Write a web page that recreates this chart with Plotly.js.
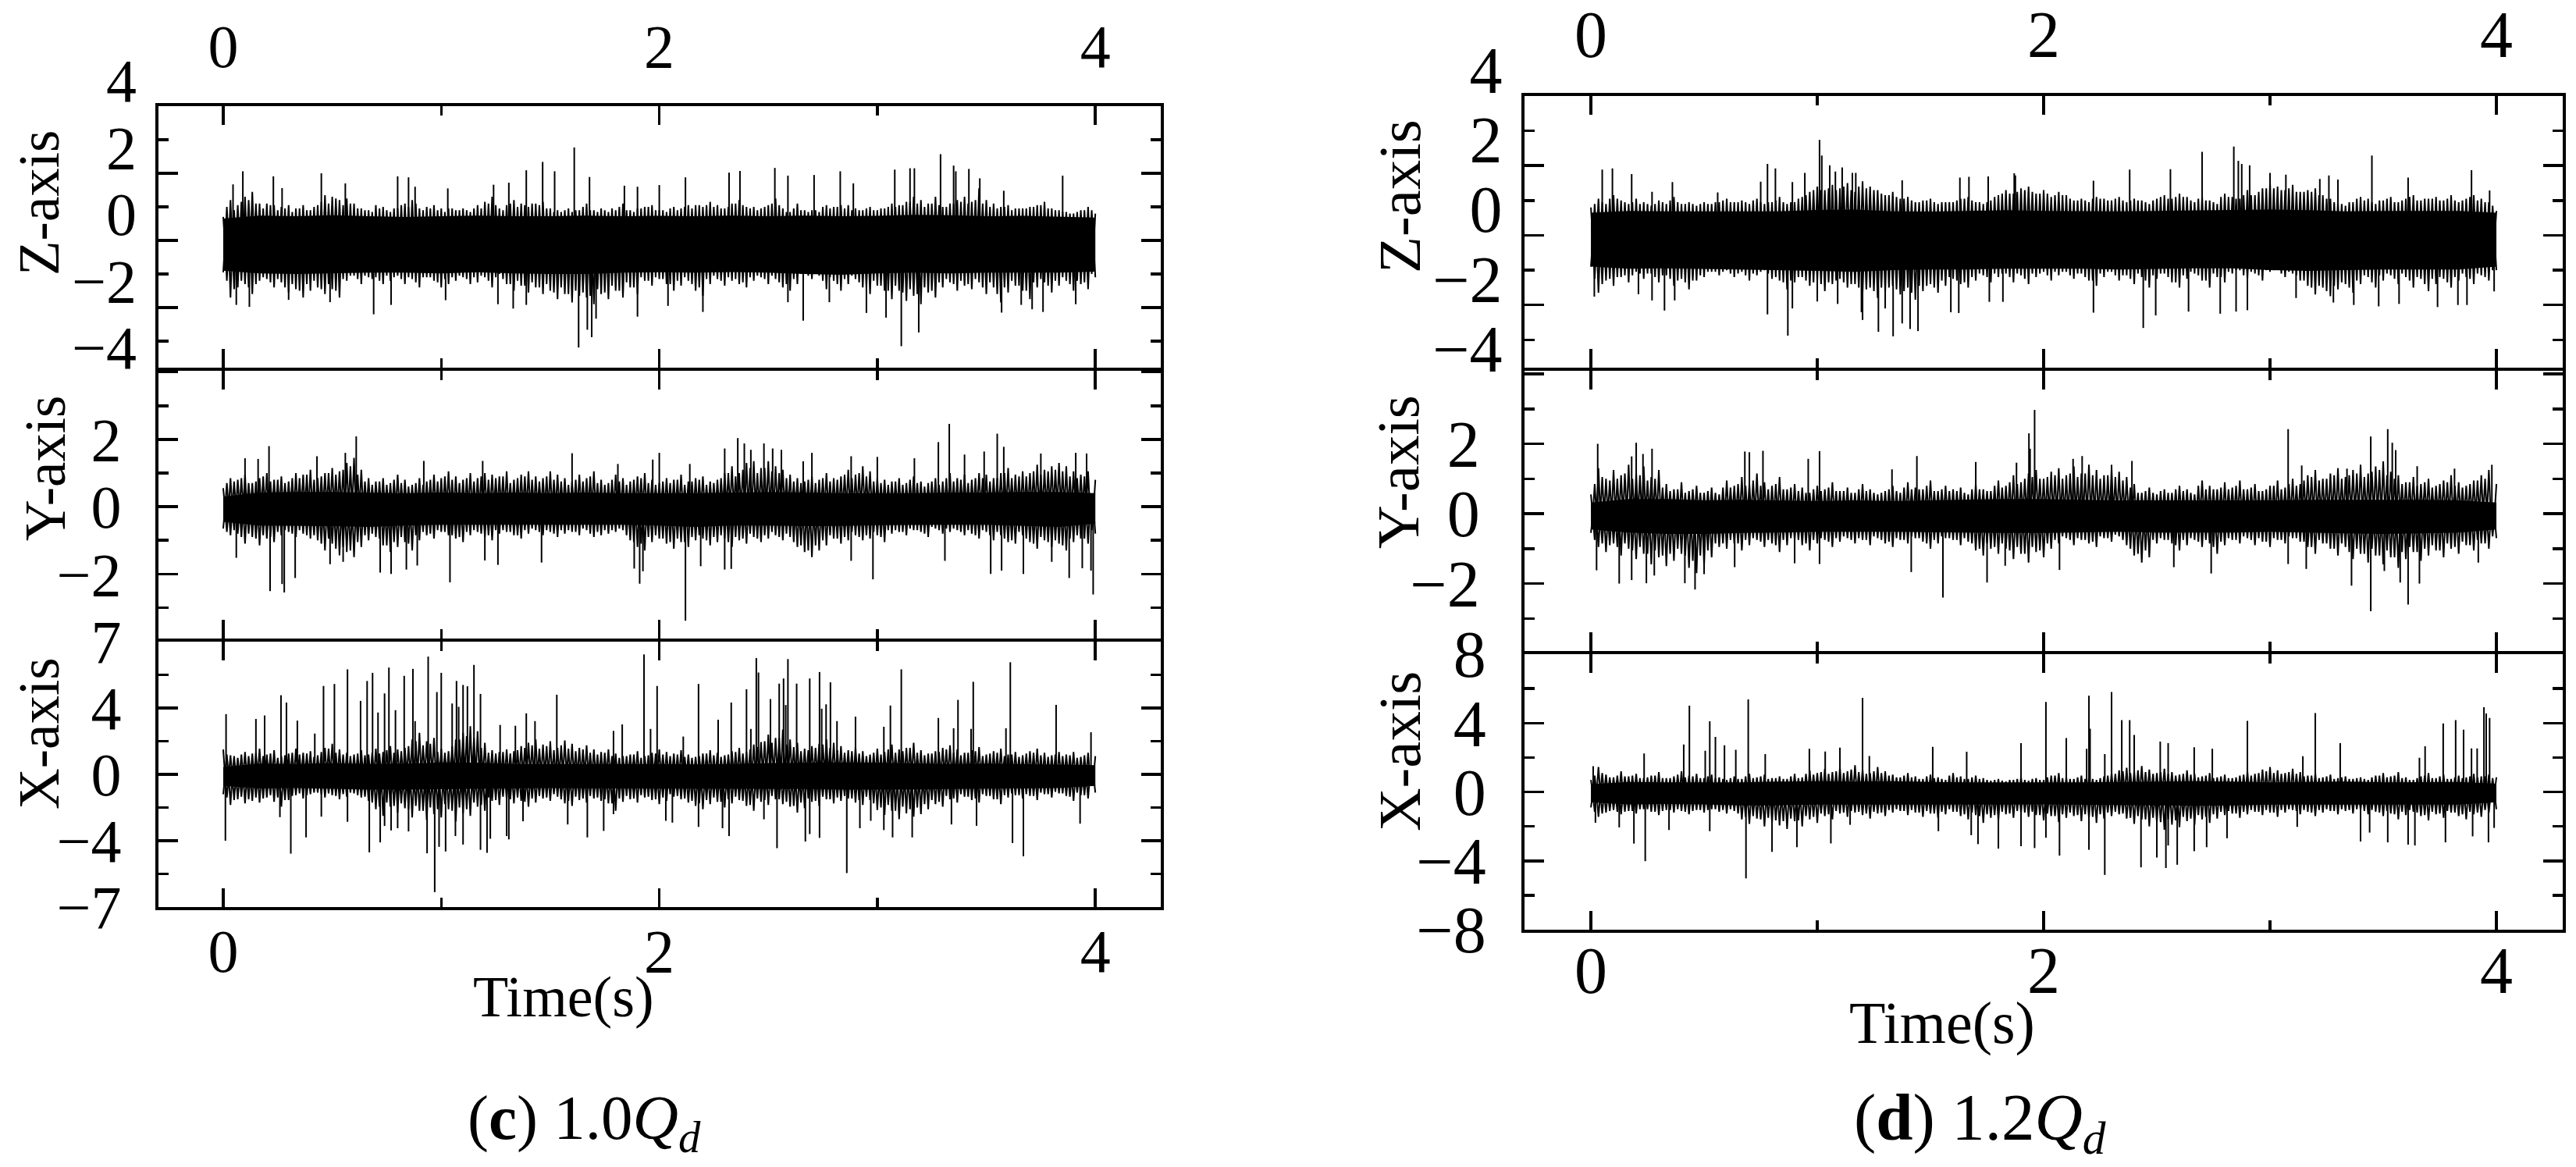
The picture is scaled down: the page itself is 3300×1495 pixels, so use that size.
<!DOCTYPE html>
<html><head><meta charset="utf-8">
<script src="https://cdn.plot.ly/plotly-3.0.1.min.js"></script>
<style>html,body{margin:0;padding:0;background:#fff}</style></head>
<body><div id="chart" style="width:3300px;height:1495px"></div>
<script>
const timeTicks=[0,2,4], timeMinor=[1,3];
const zMajor=[1,-1,-3], zMinor=[2,0,-2,-4];
const zLabels=[4,2,0,-2,-4];
const yMajor=[4,2,0,-2], yMinor=[3,1,-1,-3], yText=['\u00a0','2','0','\u22122'];
const xMajor=[8,4,0,-4,-8], xMinor=[6,2,-2,-6];
const xTextC=['7','4','0','\u22124','\u22127'], xTextD=['8','4','0','\u22124','\u22128'];

// (c) 1.0Qd  Z-axis
const cZCenter=-1.1;
const cZCoreHigh=[-.35,-.26,-.28,-.25,-.28,-.3,-.28,-.26,-.28,-.28,-.26,-.28,-.27,-.28,-.26,-.28,-.26,-.28,-.27,-.24,-.25,-.28,-.27,-.29,-.32];
const cZCoreLow=[-1.9,-1.98,-2,-1.98,-1.96,-1.96,-1.98,-1.95,-1.98,-2,-2,-1.96,-1.95,-1.96,-1.94,-1.96,-2,-2.02,-1.98,-1.96,-1.98,-1.96,-1.96,-1.96,-1.93];
const cZHigh=[-.3,.2,.05,.3,.45,.1,.1,.05,0,.05,-.05,.05,-.1,.05,.35,.3,.2,.25,.1,-.05,-.1,.05,0,-.15,-.05,.1,.2,-.05,0,.05,-.05,-.05,-.1,-.05,-.15,.05,.15,.3,-.05,.05,.2,.1,0,.1,.15,-.05,-.1,-.1,-.15,-.1,.1,-.1,-.05,-.15,-.1,.1,-.1,-.05,0,.05,-.1,-.15,0,-.05,.05,.05,0,.15,.05,-.05,.1,.2,0,0,-.05,.05,.25,-.05,-.15,.1,-.1,-.1,-.15,.05,0,.05,.05,-.05,-.1,0,-.1,-.05,.1,.05,.15,.3,.2,.1,.3,0,.1,.2,.3,.15,.55,.2,.1,0,.05,-.05,-.05,0,.05,.15,-.05,-.1,-.15,-.2,-.1,0,-.2];
const cZHigh2=[0,-.1,.15,.2,.1,-.05,.05,-.1,-.05,-.15,-.05,-.1,0,.15,.1,.25,.05,.1,-.05,-.1,-.15,-.05,-.1,-.05,.05,0,.1,-.1,-.05,-.1,-.15,-.05,-.1,-.1,-.05,-.05,.1,.05,-.1,.1,0,.05,.1,.05,-.05,-.15,-.15,-.05,-.1,0,-.1,-.15,-.1,-.05,0,-.1,-.15,-.05,0,-.1,-.1,-.05,-.1,0,-.05,.05,.05,0,-.05,0,.1,.05,-.05,-.1,0,.1,.05,-.15,-.05,-.1,-.15,-.1,0,-.05,0,-.05,-.1,-.1,-.05,-.1,-.05,0,0,.05,.15,.1,0,.1,.05,0,.1,.15,.1,.2,.1,0,-.05,0,-.1,-.05,-.05,0,.05,-.05,-.1,-.15,-.2,-.15,-.1,-.1];
const cZLow=[-1.95,-2.7,-2.4,-2.3,-2.6,-2.2,-2.15,-2.4,-2.25,-2.55,-2.45,-2.7,-2.5,-2.4,-2.6,-2.45,-2.7,-2.2,-2.05,-2.3,-2.1,-2.1,-2.3,-2.2,-2.05,-2.3,-2.15,-2.4,-2.1,-2.2,-2.4,-2.3,-2.2,-2.1,-2.3,-2.25,-2.1,-2.4,-2,-2.3,-2.5,-2.35,-2.55,-2.4,-2.6,-2.5,-2.75,-2.6,-2.85,-2.65,-2.7,-2.9,-2.6,-2.75,-2.5,-2.7,-2.4,-2.6,-2.2,-2.35,-2.15,-2.3,-2.5,-2.35,-2.2,-2.5,-2.65,-2.3,-2.15,-2.35,-2.2,-2.3,-2.4,-2.2,-2.1,-2.3,-2.15,-2.4,-2.5,-2.3,-2,-2.15,-2.05,-2.45,-2.2,-2.5,-2.3,-2.15,-2.4,-2.6,-2.35,-2.5,-2.75,-2.5,-2.8,-2.65,-2.9,-2.55,-2.7,-2.4,-2.25,-2.5,-2.35,-2.45,-2.25,-2.6,-2.4,-2.85,-2.55,-2.35,-2.5,-2.75,-2.4,-2.25,-2.55,-2.35,-2.2,-2.5,-2.3,-2.45,-2.1];
const cZLow2=[-2.2,-2.45,-2.2,-2.4,-2.3,-2.1,-2.25,-2.15,-2.4,-2.3,-2.5,-2.3,-2.2,-2.45,-2.3,-2.5,-2.15,-2.05,-2.15,-2.05,-2.15,-2.2,-2.05,-2.1,-2.15,-2.1,-2.25,-2.1,-2.1,-2.25,-2.15,-2.1,-2.05,-2.15,-2.1,-2.05,-2.2,-2.1,-2.15,-2.3,-2.2,-2.35,-2.25,-2.4,-2.3,-2.55,-2.4,-2.6,-2.5,-2.55,-2.65,-2.45,-2.55,-2.35,-2.5,-2.25,-2.4,-2.1,-2.2,-2.1,-2.15,-2.3,-2.2,-2.1,-2.3,-2.4,-2.15,-2.05,-2.2,-2.1,-2.15,-2.25,-2.1,-2.05,-2.15,-2.05,-2.25,-2.3,-2.15,-2,-2.05,-2,-2.2,-2.1,-2.3,-2.15,-2.05,-2.25,-2.4,-2.2,-2.35,-2.5,-2.35,-2.55,-2.45,-2.6,-2.4,-2.5,-2.25,-2.15,-2.3,-2.2,-2.3,-2.15,-2.4,-2.25,-2.6,-2.4,-2.2,-2.35,-2.5,-2.25,-2.15,-2.35,-2.2,-2.1,-2.3,-2.2,-2.25,-2];
const cZPeakT=[.09,.045,.23,.27,.45,.56,.8,.85,.88,1.03,1.24,1.31,1.39,1.465,1.52,1.61,1.68,1.84,1.9,2,2.12,2.32,2.37,2.53,2.59,2.71,2.83,2.89,3.08,3.15,3.17,3.29,3.35,3.36,3.42,3.47,3.85,3.58,.12,.06,.69,1.33,1.39,1.63,1.67,1.69,1.71,1.9,2.04,2.2,2.66,2.78,2.95,3.04,3.11,3.19,3.57,3.76,3.91,3.71,3.66,1.26,1.02,.77,.49,.3,2.59];
const cZPeakV=[1.06,.67,.91,.56,1,.7,.91,.88,.6,.55,.66,.72,1.09,1.34,1.06,1.77,.89,.63,.6,.65,.88,1.02,1.07,1.16,.93,.95,1.06,.7,1.11,1.15,1.15,1.57,1.23,1.06,1.13,.85,.93,.48,-2.98,-2.92,-3.2,-3.03,-2.92,-4.19,-3.66,-3.88,-3.33,-3.27,-2.95,-3.13,-3.39,-2.84,-3.16,-3.3,-4.15,-3.74,-3.15,-3.13,-2.9,-3.05,-2.92,-2.9,-2.78,-2.92,-2.84,-2.77,-2.84];

// (c) 1.0Qd  Y-axis
const cYCenter=-.05;
const cYCoreHigh=[.3,.42,.44,.44,.42,.4,.42,.4,.42,.4,.42,.4,.4,.4,.42,.44,.42,.4,.4,.4,.42,.42,.44,.44,.4];
const cYCoreLow=[-.45,-.56,-.57,-.58,-.6,-.56,-.54,-.55,-.55,-.54,-.54,-.54,-.56,-.6,-.56,-.56,-.58,-.57,-.55,-.54,-.54,-.54,-.57,-.6,-.5];
const cYHigh=[.55,.85,.8,.95,.7,.85,1,.8,.9,.75,1,.95,1.1,.85,1,1.15,1.05,1.3,1.45,1.1,.85,.75,.85,.7,.95,.8,.65,.85,.75,.95,.85,1.05,.9,.8,1,.85,1,.95,.9,1.05,.8,.95,1.05,.9,.85,1.05,.95,.85,.75,.95,.85,1.05,.8,.7,.95,.85,.75,.9,1,.8,.7,.85,.8,.95,.75,.85,.9,.75,.8,1,1.2,1,1.3,1.35,1.15,1.35,1.2,1.1,.95,.85,.75,.9,.8,1,.85,.9,1.1,.95,1.2,1.05,.85,.8,.75,.85,.7,.9,.75,.7,.85,.75,1,.85,.95,.8,1,.95,.85,1,1.15,.95,1.05,1,1.25,1.1,1.2,1.3,1.2,1.05,.95,1.05,.8];
const cYHigh2=[.7,.75,.85,.7,.75,.9,.75,.8,.7,.85,.85,.95,.8,.9,1,.95,1.1,1.2,.95,.75,.65,.75,.65,.8,.7,.6,.7,.65,.8,.75,.9,.8,.7,.85,.75,.9,.8,.85,.9,.7,.85,.9,.8,.75,.9,.8,.75,.65,.8,.75,.9,.7,.65,.8,.75,.65,.8,.85,.7,.65,.75,.7,.8,.65,.75,.8,.65,.7,.85,1,.9,1.1,1.15,1,1.15,1.05,1,.85,.75,.7,.8,.7,.85,.75,.8,.95,.85,1,.9,.75,.7,.65,.75,.65,.8,.7,.6,.75,.65,.85,.75,.8,.7,.85,.85,.75,.85,1,.85,.9,.9,1.05,.95,1.05,1.1,1.05,.9,.85,.9];
const cYLow=[-.65,-.85,-.8,-1.1,-.9,-1.15,-.95,-1.05,-.85,-.75,-.9,-.8,-.95,-1,-1.3,-1.1,-1.45,-1.35,-1.5,-1.2,-1,-.9,-1.15,-1.35,-1.2,-1.05,-1.3,-1,-.85,-.95,-.75,-.85,-.95,-1.05,-.85,-.75,-.9,-1,-.8,-.75,-.85,-.95,-.8,-.7,-.85,-.75,-.9,-.8,-.75,-.85,-.7,-.9,-.85,-.8,-.75,-.7,-1,-1.2,-1.3,-1.05,-.95,-1.1,-1.25,-1.05,-1.2,-1,-.95,-1.15,-1.05,-.95,-1.2,-1,-1.1,-.9,-1.05,-.95,-.85,-1,-.9,-1.2,-1.35,-1.5,-1.3,-1.15,-.95,-1.1,-1,-.85,-1,-.95,-.85,-1.05,-.8,-.75,-.85,-.7,-.75,-.9,-.65,-.8,-.75,-.7,-.85,-.8,-.95,-.75,-1,-.85,-1.05,-1.1,-.85,-1.05,-1.25,-1,-1.2,-1.1,-1.3,-1.05,-.95,-1.1,-.8];
const cYLow2=[-.75,-.7,-.9,-.8,-.95,-.85,-.9,-.75,-.7,-.8,-.7,-.85,-.85,-1.1,-.95,-1.25,-1.2,-1.3,-1.05,-.85,-.8,-.95,-1.15,-1.05,-.9,-1.1,-.85,-.75,-.8,-.7,-.75,-.85,-.9,-.75,-.7,-.8,-.85,-.7,-.7,-.75,-.85,-.7,-.65,-.75,-.7,-.8,-.7,-.7,-.75,-.65,-.8,-.75,-.7,-.7,-.65,-.85,-1.05,-1.1,-.9,-.85,-.95,-1.05,-.95,-1.05,-.9,-.85,-1,-.9,-.85,-1.05,-.9,-.95,-.8,-.95,-.85,-.75,-.9,-.8,-1.05,-1.15,-1.3,-1.15,-1,-.85,-.95,-.9,-.75,-.9,-.85,-.75,-.9,-.7,-.7,-.75,-.65,-.7,-.8,-.6,-.7,-.65,-.65,-.75,-.7,-.85,-.7,-.85,-.75,-.95,-1,-.75,-.95,-1.1,-.9,-1.05,-1,-1.15,-.95,-.85,-.95,-.7];
const cYPeakT=[.1,.16,.21,.43,.56,.61,1.6,1.81,2,1.97,2.14,2.3,2.36,2.39,2.42,2.48,2.52,2.56,2.7,2.88,3,3.28,3.33,3.4,3.49,3.55,3.58,3.75,3.91,3.96,1.19,.92,2.66,3.17,.215,.28,.27,.33,.06,.72,.77,.84,.89,1.04,1.2,1.26,1.46,1.91,1.885,1.925,2.12,2.19,2.3,2.33,2.88,2.98,3.31,3.52,3.57,3.67,3.8,3.88,3.94,3.98,3.99,.49,.55];
const cYPeakV=[1.44,1.42,1.8,1.5,1.6,2.09,1.59,1.27,1.6,1.4,1.27,1.73,2.04,1.88,1.69,1.88,1.73,1.69,1.6,1.5,1.48,1.92,2.46,1.55,1.64,2.17,1.78,1.58,1.6,1.58,1.36,1.36,1.35,1.44,-2.51,-2.55,-2.3,-2.12,-1.52,-1.96,-2,-1.87,-1.75,-2.25,-1.6,-1.73,-1.66,-2.29,-1.84,-1.92,-3.39,-1.77,-1.87,-1.85,-1.61,-2.16,-1.61,-2,-1.9,-2,-1.64,-2.12,-1.83,-1.9,-2.61,-1.71,-1.64];

// (c) 1.0Qd  X-axis
const cXCenter=-.1;
const cXCoreHigh=[.45,.65,.62,.68,.62,.65,.72,.7,.62,.62,.65,.62,.62,.6,.62,.68,.7,.72,.7,.65,.62,.65,.62,.6,.55];
const cXCoreLow=[-.7,-.85,-.82,-.88,-.92,-.92,-.9,-.88,-.85,-.82,-.85,-.88,-.85,-.85,-.88,-.88,-.88,-.92,-.92,-.92,-.88,-.85,-.85,-.82,-.7];
const cXHigh=[1.5,1.15,1,1.35,1.25,1.55,1.2,1.45,1.1,1.25,1.55,1.3,1.4,1.15,1.6,1.85,1.5,1.3,1.2,1.45,1.2,1.55,1.35,1.7,1.5,1.6,2.1,2.5,2,2.2,1.55,1.4,2.1,2.5,2.9,2.6,1.9,1.45,1.35,1.5,1.4,1.7,1.9,2.1,1.8,2,1.6,2.05,1.85,1.6,1.75,1.5,1.35,1.5,1.25,1.1,1.2,1.4,1.1,1.3,1.5,1.35,1.25,1.45,1.2,1.05,1.25,1.45,1.3,1.15,1.4,1.6,1.35,1.8,1.95,2.4,2.2,2.7,2.1,1.9,1.55,1.7,1.85,2.1,1.9,1.7,1.45,1.65,1.4,1.2,1.55,1.35,1.8,1.5,1.6,1.9,1.45,1.25,1.4,1.6,1.75,1.5,1.3,1.45,1.65,1.2,1.4,1.55,1.2,1.35,1.15,1.4,1.55,1.3,1.15,1.35,1.2,1.35,1.05,1.3,1.1];
const cXHigh2=[1.2,1.1,1.2,1.1,1.3,1.1,1.25,1,1.15,1.3,1.2,1.25,1.05,1.35,1.55,1.3,1.2,1.1,1.25,1.15,1.3,1.25,1.45,1.3,1.4,1.7,2,1.75,1.85,1.35,1.3,1.7,2.1,2.3,2.2,1.6,1.3,1.25,1.35,1.25,1.45,1.6,1.75,1.55,1.7,1.45,1.75,1.55,1.4,1.5,1.3,1.2,1.3,1.1,1,1.1,1.2,1,1.15,1.25,1.2,1.1,1.2,1.05,1,1.1,1.25,1.15,1.05,1.2,1.35,1.25,1.5,1.65,2,1.9,2.2,1.8,1.65,1.4,1.45,1.6,1.8,1.6,1.45,1.3,1.4,1.25,1.1,1.3,1.2,1.5,1.3,1.4,1.6,1.3,1.15,1.25,1.35,1.5,1.3,1.15,1.3,1.4,1.1,1.25,1.3,1.1,1.2,1.05,1.25,1.3,1.15,1.05,1.2,1.1,1.15,1,1.15];
const cXLow=[-1.2,-1.85,-1.5,-1.75,-1.6,-1.7,-1.4,-1.65,-1.95,-1.55,-1.25,-1.45,-1.2,-1.1,-1.4,-1.25,-1.5,-1.35,-1.15,-1.4,-1.6,-2.1,-2.5,-1.95,-2.3,-2.05,-2.6,-2.2,-2.75,-2.4,-2.6,-2.1,-2.85,-2.35,-2.5,-1.95,-2.2,-1.6,-1.85,-1.5,-1.75,-1.6,-1.95,-1.7,-1.45,-1.6,-1.35,-1.75,-1.9,-1.55,-1.7,-1.45,-1.6,-1.75,-2.2,-1.65,-1.5,-1.7,-1.4,-1.55,-1.8,-1.6,-1.35,-1.5,-1.7,-1.9,-2.1,-1.8,-1.65,-2,-1.75,-1.55,-1.9,-2.2,-1.65,-1.85,-1.5,-1.8,-1.95,-2.3,-2.05,-1.65,-1.9,-1.5,-1.75,-1.6,-1.45,-1.7,-1.85,-1.55,-2.15,-2.45,-2.2,-2.7,-2.35,-2.55,-2.4,-2.1,-1.8,-1.95,-1.5,-1.7,-1.35,-1.55,-1.7,-1.3,-1.5,-1.8,-1.4,-1.25,-1.45,-1.3,-1.55,-1.2,-1.4,-1.15,-1.3,-1.6,-1.25,-1.45,-1.1];
const cXLow2=[-1.4,-1.55,-1.35,-1.5,-1.4,-1.45,-1.25,-1.4,-1.55,-1.3,-1.15,-1.25,-1.1,-1.2,-1.15,-1.3,-1.2,-1.1,-1.25,-1.35,-1.7,-1.95,-1.7,-1.9,-1.75,-2.1,-1.9,-2.2,-2,-2.1,-1.8,-2.2,-2,-2.1,-1.7,-1.85,-1.4,-1.55,-1.35,-1.5,-1.4,-1.65,-1.45,-1.3,-1.4,-1.2,-1.5,-1.6,-1.35,-1.45,-1.3,-1.4,-1.5,-1.75,-1.45,-1.3,-1.45,-1.25,-1.35,-1.5,-1.4,-1.2,-1.3,-1.45,-1.6,-1.75,-1.55,-1.4,-1.65,-1.5,-1.35,-1.6,-1.85,-1.45,-1.55,-1.3,-1.5,-1.65,-1.9,-1.7,-1.45,-1.6,-1.35,-1.5,-1.4,-1.3,-1.45,-1.55,-1.35,-1.75,-2,-1.85,-2.2,-1.95,-2.1,-2,-1.8,-1.55,-1.65,-1.3,-1.45,-1.2,-1.35,-1.45,-1.2,-1.3,-1.5,-1.25,-1.15,-1.25,-1.2,-1.3,-1.1,-1.2,-1.05,-1.15,-1.35,-1.1,-1.25];
const cXPeakT=[.013,.15,.19,.265,.29,.34,.42,.46,.51,.57,.63,.66,.685,.71,.74,.76,.79,.83,.87,.88,.94,.98,1,1.05,1.07,1.08,1.1,1.12,1.15,1.18,1.27,1.34,1.39,1.43,1.53,1.83,1.79,1.93,1.96,1.99,2.11,2.18,2.27,2.33,2.4,2.42,2.445,2.455,2.51,2.55,2.57,2.58,2.59,2.63,2.69,2.735,2.745,2.785,2.765,2.815,2.9,3.03,3.06,3.11,3.28,3.37,3.35,3.43,3.44,3.59,3.61,3.82,3.98,.01,.26,.31,.38,.45,.57,.67,.72,.74,.77,.8,.85,.935,.97,.99,1.02,1.065,1.1,1.18,1.21,1.225,1.3,1.31,1.375,1.58,1.67,1.745,1.79,2.03,2.06,2.18,2.29,2.32,2.48,2.54,2.67,2.69,2.735,2.86,2.92,3.03,3.07,3.16,3.34,3.455,3.62,3.67,3.93,2.97];
const cXPeakV=[3.63,3.34,3.55,4.77,4.33,3.24,2.46,5.33,5.45,6.33,4.43,5.63,6.12,3.73,4.88,6.44,3.87,5.94,6.36,3.21,7.1,4.96,6.12,4.27,5.63,4.07,5.39,5.31,6.6,4.85,2.98,2.93,3.68,3.21,4.8,3.01,2.62,7.23,2.74,5.33,2.28,5.45,3.29,4.33,5.13,2.74,7.01,6.14,4.54,5.47,5.78,4.18,6.95,5.47,5.78,6.17,3.96,5.55,4.22,3.21,3.48,2.87,4.15,6.33,3.4,4.49,2.78,2.74,5.58,2.78,6.76,4.19,2.54,-4,-2.58,-4.78,-3.8,-2.55,-2.86,-4.7,-4.1,-3.11,-3.38,-3.25,-3.44,-4.76,-7.1,-4.37,-4.65,-3.72,-4.23,-4.55,-4.73,-3.88,-3.72,-3.92,-2.83,-3.02,-3.8,-3.41,-2.4,-2.8,-2.91,-3.17,-3.25,-3.72,-2.71,-4.45,-4.05,-3.6,-3.83,-5.95,-3.25,-3.36,-3.8,-3.8,-3.02,-3.1,-4.14,-4.94,-2.97,-2.8];

// (d) 1.2Qd  Z-axis
const dZCenter=-1.1;
const dZCoreHigh=[-.35,-.3,-.31,-.31,-.3,-.31,-.27,-.26,-.31,-.32,-.3,-.28,-.3,-.31,-.31,-.3,-.29,-.27,-.26,-.28,-.31,-.3,-.3,-.3,-.35];
const dZCoreLow=[-1.9,-1.96,-1.95,-1.96,-1.98,-2,-2.02,-2.05,-2,-1.98,-1.98,-1.96,-1.96,-1.96,-1.98,-1.96,-1.95,-1.95,-2,-2.02,-2,-1.98,-1.98,-1.98,-1.9];
const dZHigh=[-.2,.05,-.1,.15,0,-.1,.05,-.05,-.15,0,-.1,.1,-.1,-.05,-.15,-.05,-.1,-.05,.05,-.05,0,-.1,.05,-.1,-.05,.1,-.1,-.05,.1,.25,.4,.3,.45,.35,.5,.25,.55,.4,.3,.15,.25,.05,.1,-.05,0,.05,-.1,-.05,-.05,.05,.1,-.05,-.1,0,.15,.3,.2,.35,.4,.2,.3,.1,.25,.15,0,.05,-.05,.1,.05,0,.1,-.05,.05,0,-.1,.05,.15,.05,.2,.1,-.05,.1,0,-.1,.2,.1,.05,.3,.15,.35,.5,.4,.3,.45,.25,.3,.35,.15,.05,-.05,-.15,-.05,.1,.05,-.1,0,.1,-.05,.05,.15,0,.05,.1,0,.15,-.05,.05,.15,.05,-.05,-.3];
const dZHigh2=[-.1,-.05,.05,.05,-.05,-.05,-.1,-.1,-.1,-.05,0,-.05,-.1,-.1,-.1,-.1,-.05,0,-.05,-.05,-.05,0,-.05,-.05,0,-.05,-.05,.05,.15,.3,.3,.35,.3,.4,.3,.4,.35,.3,.2,.15,.1,.05,0,-.05,0,-.05,-.05,-.05,0,.05,0,-.05,-.05,.1,.2,.2,.25,.3,.25,.2,.2,.15,.15,.05,0,0,.05,.05,0,.05,0,0,0,-.05,0,.1,.05,.1,.1,0,.05,0,-.05,.1,.1,.05,.15,.15,.25,.35,.35,.3,.35,.25,.25,.25,.15,.05,-.05,-.1,-.05,.05,0,-.05,0,.05,-.05,0,.1,0,.05,.05,0,.05,0,0,.1,0,-.05,-.15];
const dZLow=[-1.9,-2.65,-2.3,-2.45,-2.2,-2.35,-2.05,-2.25,-2.1,-2.35,-2.15,-2.45,-2.25,-2.55,-2.3,-2.2,-2.05,-2.15,-2,-2.2,-2.05,-2.3,-2.15,-2,-2.25,-2.3,-2.55,-2.35,-2.2,-2.45,-2.3,-2.6,-2.4,-2.25,-2.5,-2.4,-2.65,-2.5,-2.8,-2.6,-2.45,-2.7,-2.5,-2.85,-2.6,-2.4,-2.65,-2.45,-2.25,-2.4,-2.5,-2.3,-2.15,-2.35,-2.2,-2.1,-2.35,-2.15,-2.4,-2.2,-2.05,-2.3,-2.15,-2.05,-2.25,-2.1,-2.3,-2.45,-2.2,-2.05,-2.3,-2.15,-2.4,-2.2,-2.5,-2.25,-2.1,-2.35,-2.5,-2.25,-2.1,-2.3,-2.5,-2.2,-2.35,-2.1,-2,-2.25,-2.1,-2.3,-2.05,-1.95,-2.2,-2.1,-2.3,-2.45,-2.7,-2.5,-2.75,-2.55,-2.4,-2.65,-2.4,-2.2,-2.5,-2.3,-2.15,-2.4,-2.2,-2.5,-2.25,-2.6,-2.4,-2.25,-2.5,-2.3,-2.2,-2.4,-2.15,-2.3,-2];
const dZLow2=[-2.25,-2.4,-2.25,-2.2,-2.15,-2.15,-2.1,-2.1,-2.2,-2.15,-2.25,-2.3,-2.35,-2.3,-2.15,-2.05,-2.05,-2.05,-2.1,-2.1,-2.15,-2.1,-2.05,-2.1,-2.2,-2.35,-2.3,-2.2,-2.3,-2.35,-2.4,-2.35,-2.3,-2.35,-2.4,-2.5,-2.55,-2.6,-2.5,-2.5,-2.55,-2.6,-2.65,-2.45,-2.45,-2.5,-2.3,-2.2,-2.3,-2.35,-2.2,-2.1,-2.2,-2.1,-2.1,-2.2,-2.1,-2.25,-2.1,-2.1,-2.15,-2.05,-2.05,-2.15,-2.1,-2.2,-2.3,-2.1,-2.05,-2.15,-2.15,-2.25,-2.1,-2.3,-2.15,-2.1,-2.2,-2.35,-2.15,-2.05,-2.15,-2.3,-2.1,-2.2,-2.05,-2,-2.15,-2.05,-2.15,-2,-2,-2.1,-2.05,-2.15,-2.3,-2.5,-2.45,-2.6,-2.45,-2.35,-2.5,-2.3,-2.15,-2.35,-2.15,-2.1,-2.25,-2.1,-2.3,-2.2,-2.4,-2.25,-2.2,-2.35,-2.2,-2.1,-2.25,-2.1,-2.2,-2];
const dZPeakT=[.05,.095,.18,.27,.36,.56,.78,.815,.75,.89,.945,1.01,1.02,1.055,1.08,1.11,1.155,1.17,1.375,1.63,1.67,1.755,1.87,1.875,2.22,2.38,2.56,2.7,2.84,2.86,2.875,2.91,3,3.07,3.22,3.26,3.3,3.45,3.61,3.89,3.97,.015,.21,.27,.325,.37,.78,.87,.89,1,1.09,1.195,1.2,1.27,1.335,1.3,1.375,1.41,1.445,1.59,1.625,1.76,1.82,2.22,2.44,2.495,2.64,2.78,2.85,2.9,3.115,3.28,3.37,3.48,3.57,3.74,3.83,3.87,3.99];
const dZPeakV=[.89,.92,.76,.25,.53,.23,1.05,.92,.54,.53,.79,1.74,1.29,1.01,.83,.95,.79,.79,.58,.66,.68,.69,.78,.72,.57,.89,.9,1.4,1.55,1.14,1.05,1.01,.79,.74,.62,.72,.6,1.29,.66,.87,.29,-2.76,-2.69,-2.87,-3.16,-2.87,-3.27,-3.88,-3.1,-2.9,-2.97,-3.21,-3.43,-3.77,-3.9,-3.1,-3.53,-3.69,-3.75,-3.21,-3.23,-2.91,-2.91,-3.22,-3.66,-3.3,-3.19,-3.25,-3.19,-3.15,-2.8,-2.93,-3,-3.04,-2.97,-3.06,-3,-3,-2.61];

// (d) 1.2Qd  Y-axis
const dYCenter=-.05;
const dYCoreHigh=[.32,.42,.42,.38,.4,.38,.36,.38,.36,.38,.4,.42,.42,.4,.38,.38,.38,.38,.38,.4,.4,.4,.4,.38,.32];
const dYCoreLow=[-.45,-.54,-.58,-.58,-.55,-.54,-.52,-.52,-.52,-.52,-.54,-.55,-.55,-.54,-.52,-.54,-.54,-.54,-.52,-.54,-.56,-.58,-.56,-.54,-.45];
const dYHigh=[.55,1.3,1,1.25,1.1,1.4,1.15,1.35,1.05,1.25,.85,.7,.9,.65,.8,.6,.75,.55,.95,.8,1.05,.85,1.15,.9,.8,1.05,.7,.85,.75,.6,.8,.7,.9,.65,.75,.6,.85,.7,.55,.65,.8,.6,.9,.75,.7,.95,.65,.8,.7,.75,.55,.85,.7,.65,.95,.8,1.1,.9,1.15,1.25,1,1.2,1.3,1.1,1.35,1.15,1.4,1.25,1.1,1.3,1.2,1.05,.85,.6,.75,.55,.7,.6,.8,.7,.55,.95,.8,.7,.9,.75,.95,.7,.85,.65,.8,.95,.75,1,.85,1.1,1.25,1,1.15,1.3,1.05,1.25,1.4,1.15,1.35,1.5,1.2,1.1,.9,1.05,.85,1,.8,.95,1.1,.9,.8,.95,1.1,1.25,.85];
const dYHigh2=[.85,1.05,.95,1,1.15,1,1.1,.95,1,.75,.65,.7,.6,.7,.6,.65,.6,.75,.75,.85,.8,.95,.8,.7,.85,.7,.75,.65,.6,.7,.65,.75,.65,.65,.6,.7,.65,.6,.6,.7,.65,.75,.7,.7,.8,.65,.7,.65,.65,.6,.7,.7,.65,.8,.75,.9,.85,1,1.05,1,1.05,1.1,1,1.15,1.05,1.15,1.1,1,1.1,1.05,.95,.75,.6,.65,.6,.65,.6,.7,.65,.6,.8,.7,.7,.75,.7,.8,.7,.75,.65,.7,.8,.7,.85,.8,.95,1.05,.95,1,1.1,1,1.1,1.15,1.05,1.2,1.25,1.1,1,.85,.9,.8,.9,.75,.85,.9,.8,.75,.85,.95,1];
const dYLow=[-.55,-.95,-1.1,-.85,-1.2,-1,-1.3,-1.15,-1.45,-1.25,-1.5,-1.35,-1.15,-1.55,-1.7,-1.45,-1.25,-.95,-1,-.85,-1.05,-.9,-.75,-.95,-.85,-1.1,-.9,-.75,-.9,-1.05,-.85,-.75,-.95,-.8,-.7,-.85,-.75,-.9,-.7,-.85,-.95,-.75,-.85,-.7,-.8,-1,-.85,-.7,-.75,-.9,-.8,-1.05,-1.2,-1,-1.15,-1,-1.3,-1.15,-1.4,-1.1,-1.25,-1,-.85,-.7,-.9,-.75,-.85,-.95,-.7,-.8,-.65,-.9,-1.2,-1.4,-1.25,-.85,-.75,-.85,-1.05,-.9,-.75,-.95,-.85,-1.15,-.9,-.75,-.85,-.7,-.9,-.8,-.95,-.75,-.85,-.7,-.8,-.95,-1.15,-.85,-1,-1.2,-.95,-1.3,-1.15,-1.4,-1.2,-1.45,-1.25,-1.55,-1.3,-1.1,-1.35,-1.2,-1.05,-1.25,-1,-1.15,-.9,-1.05,-.85,-1,-.7];
const dYLow2=[-.75,-.85,-.9,-.95,-.85,-1.05,-.95,-1.15,-1.05,-1.2,-1.15,-1,-1.2,-1.35,-1.2,-1.05,-.85,-.85,-.75,-.85,-.75,-.7,-.8,-.75,-.9,-.75,-.7,-.75,-.85,-.75,-.7,-.8,-.7,-.65,-.75,-.7,-.75,-.65,-.75,-.8,-.7,-.75,-.65,-.7,-.85,-.75,-.65,-.7,-.75,-.7,-.85,-1,-.85,-.95,-.85,-1.05,-.95,-1.15,-.95,-1.05,-.85,-.75,-.65,-.75,-.7,-.75,-.8,-.65,-.7,-.6,-.75,-1,-1.15,-1.05,-.75,-.7,-.75,-.9,-.75,-.7,-.8,-.75,-.95,-.8,-.7,-.75,-.65,-.75,-.7,-.8,-.7,-.75,-.65,-.7,-.8,-.95,-.75,-.85,-1,-.85,-1.1,-1,-1.15,-1,-1.2,-1.05,-1.25,-1.1,-.95,-1.1,-1,-.9,-1.05,-.85,-.95,-.8,-.9,-.75,-.85,-.65];
const dYPeakT=[.03,.2,.18,.23,.27,.68,.7,.76,.96,1.01,1.44,1.7,1.88,1.935,1.96,1.94,2.13,2.17,2.3,2.39,3.08,3.14,3.445,3.52,3.54,3.555,3.65,3.815,3.98,3.34,1.33,.025,.125,.18,.245,.28,.415,.46,.5,.635,.9,1.01,1.415,1.555,1.75,1.83,2.07,2.575,2.74,3.08,3.16,3.36,3.445,3.505,3.61,3.575,3.66,3.92];
const dYPeakV=[2,2.03,1.64,1.71,1.86,1.78,1.76,1.8,1.57,1.79,1.65,1.48,1.46,2.3,2.97,1.86,1.57,1.65,1.4,1.51,2.42,1.38,2.21,2.42,2.03,1.82,1.36,1.29,1.4,1.29,1.27,-1.62,-2,-1.9,-1.99,-1.77,-1.99,-2.17,-1.73,-1.53,-1.42,-1.44,-1.67,-2.4,-1.97,-1.49,-1.61,-1.53,-1.71,-1.44,-1.58,-2.06,-2.79,-1.64,-2.6,-1.97,-2,-1.4];

// (d) 1.2Qd  X-axis
const dXCenter=-.1;
const dXCoreHigh=[.45,.58,.55,.55,.55,.6,.62,.6,.62,.58,.55,.56,.55,.55,.58,.6,.62,.6,.56,.58,.6,.56,.56,.58,.48];
const dXCoreLow=[-.6,-.72,-.7,-.72,-.78,-.78,-.74,-.74,-.72,-.74,-.74,-.74,-.72,-.74,-.76,-.78,-.8,-.78,-.74,-.72,-.74,-.74,-.74,-.74,-.6];
const dXHigh=[.7,1.45,1,.85,1.2,.9,1.05,.8,.95,1.15,.8,.9,1.2,.95,1.05,.8,1,.85,.7,.9,.75,1.05,.85,1,.8,.9,.75,1.05,.85,1.25,1.1,1.35,1.15,1.4,1.2,1.55,1.3,1.1,1.45,1.2,1,.85,1.1,.9,.75,1,.85,.7,1.1,.9,.75,.95,.8,.65,.75,.6,.7,.85,.65,.8,.7,.95,1.1,.85,.75,.95,.8,.7,.9,1.1,1.25,1.4,1.2,1.5,1.3,1.1,1.35,1.15,1,1.25,1.05,.9,1.1,.85,1,.8,.95,1.2,1.05,1.3,1.45,1.25,1.1,1.35,1.15,.95,1.1,.85,1,.8,.9,.75,.85,.7,.95,1.1,.9,1.15,.85,.7,.9,1.1,.8,1,.75,.95,.85,1.05,.9,1,.85];
const dXHigh2=[.95,1.1,.85,.95,.9,.95,.8,.85,.95,.8,.8,1,.85,.9,.8,.9,.8,.75,.8,.75,.9,.8,.9,.75,.8,.75,.9,.8,1.05,1,1.15,1.05,1.2,1.1,1.3,1.15,1.05,1.2,1.1,.95,.85,.95,.85,.75,.9,.8,.75,.95,.85,.75,.85,.75,.7,.7,.65,.7,.75,.7,.75,.7,.85,.95,.8,.75,.85,.75,.75,.8,.95,1.05,1.2,1.1,1.25,1.15,1.05,1.15,1.05,.95,1.05,1,.85,.95,.8,.9,.8,.85,1,.95,1.1,1.2,1.1,1.05,1.15,1.05,.9,.95,.8,.9,.75,.85,.75,.8,.75,.85,.95,.85,.95,.8,.7,.8,.95,.8,.9,.75,.85,.8,.9,.85,.9,.8];
const dXLow=[-.9,-1.45,-1.2,-1.05,-1.3,-1.1,-1.25,-1,-1.15,-1.35,-1.05,-1.2,-1.1,-1.3,-1.05,-1.2,-1,-1.15,-1.25,-1.1,-1.6,-1.85,-1.55,-2,-1.75,-1.95,-2.15,-1.7,-2,-1.6,-1.8,-1.4,-1.6,-1.25,-1.45,-1.2,-1.35,-1.55,-1.25,-1.4,-1.2,-1.1,-1.35,-1.2,-1.45,-1.25,-1.5,-1.3,-1.15,-1.4,-1.6,-1.35,-1.8,-1.5,-1.65,-1.3,-1.5,-1.2,-1.45,-1.35,-1.65,-1.4,-1.75,-1.5,-1.4,-1.7,-1.5,-1.8,-1.55,-1.4,-1.3,-1.55,-1.85,-1.6,-2,-1.75,-2.2,-1.9,-2.05,-1.7,-1.9,-1.6,-1.8,-1.55,-1.35,-1.25,-1.5,-1.3,-1.15,-1.35,-1.2,-1.45,-1.2,-1.05,-1.3,-1.15,-1.4,-1.2,-1.1,-1.3,-1.1,-1.25,-1.05,-1.3,-1.15,-1.4,-1.25,-1.6,-1.35,-1.15,-1.4,-1.65,-1.3,-1.5,-1.2,-1.4,-1.6,-1.3,-1.45,-1.2,-1];
const dXLow2=[-1.15,-1.25,-1.1,-1.15,-1.15,-1.1,-1,-1,-1.15,-1.1,-1.05,-1,-1.15,-1.1,-1.05,-1.05,-1,-1.05,-1,-1.25,-1.45,-1.4,-1.6,-1.5,-1.65,-1.7,-1.55,-1.65,-1.4,-1.45,-1.25,-1.3,-1.1,-1.2,-1.1,-1.15,-1.25,-1.15,-1.2,-1.05,-1,-1.1,-1.05,-1.2,-1.1,-1.25,-1.15,-1,-1.15,-1.3,-1.2,-1.4,-1.3,-1.35,-1.15,-1.25,-1.1,-1.2,-1.15,-1.35,-1.25,-1.4,-1.3,-1.2,-1.35,-1.3,-1.45,-1.3,-1.2,-1.15,-1.25,-1.5,-1.4,-1.6,-1.5,-1.75,-1.6,-1.65,-1.45,-1.55,-1.35,-1.45,-1.3,-1.15,-1.1,-1.25,-1.15,-1.05,-1.15,-1.05,-1.2,-1.05,-1,-1.1,-1.05,-1.2,-1.05,-1,-1.1,-1,-1.05,-1,-1.1,-1.05,-1.2,-1.1,-1.3,-1.15,-1.05,-1.2,-1.35,-1.15,-1.25,-1.1,-1.2,-1.3,-1.15,-1.2,-1.05];
const dXPeakT=[.01,.235,.41,.435,.505,.525,.55,.59,.64,.695,.77,.965,1.035,1.1,1.2,1.23,1.51,1.66,1.9,2.01,2.1,2.19,2.2,2.205,2.27,2.3,2.3,2.345,2.38,2.4,2.515,2.55,2.665,2.745,2.9,3.145,3.2,3.31,3.685,3.765,3.82,3.855,3.89,3.915,3.945,3.955,3.97,3.66,.02,.125,.19,.24,.345,.525,.685,.8,.91,1.06,1.145,1.535,1.68,1.71,1.8,1.9,1.96,2.01,2.07,2.2,2.27,2.43,2.5,2.54,2.59,2.55,2.665,2.72,2.81,3.12,3.4,3.44,3.52,3.61,3.64,3.775,3.895,3.965,3.99];
const dXPeakV=[1.5,2.23,2.75,5.01,2.39,4.1,3.2,2.71,2.45,5.37,2.2,2.5,2.35,2.57,5.46,2.08,2.62,2.33,2.83,5.22,3.13,2.5,5.59,3.67,2.2,5.8,2.65,4.17,4.17,3.31,2.92,2.83,2.6,2.5,4.13,2.07,4.58,2.83,2.65,3.98,4.17,3.62,2.53,2.53,4.92,4.55,4.29,1.98,-1.79,-2.06,-3,-4.02,-2.21,-2.28,-5.02,-3.48,-3.21,-2.99,-1.91,-2.28,-2.51,-3.03,-3.29,-3.15,-3.26,-2.66,-3.7,-3.36,-4.82,-4.38,-3.81,-4.42,-4.23,-3.11,-3.44,-3.21,-2.69,-2.03,-2.88,-2.36,-2.93,-3.06,-3.11,-2.93,-2.58,-2.93,-2.09];

const FONT='"Liberation Serif","Times New Roman",serif';
const W=3300,H=1495;
const px=x=>x/W, py=y=>1-y/H;

function grid(n){return Array.from({length:n},(_,i)=>i*4/(n-1));}
function coreTrace(hi,lo,xa,ya){
  const t=grid(hi.length);
  return {x:t.concat(t.slice().reverse()),y:hi.concat(lo.slice().reverse()),
    mode:'lines',fill:'toself',fillcolor:'#000',line:{width:0,color:'#000'},xaxis:xa,yaxis:ya,hoverinfo:'skip',showlegend:false};
}
function signalTrace(center,hi,hi2,lo,lo2,pt,pv,xa,ya){
  const X=[],Y=[];
  [[hi,hi2],[lo,lo2]].forEach(([main,mid])=>{
    const t=grid(main.length),step=4/(main.length-1);
    main.forEach((v,i)=>{
      X.push(t[i]);Y.push(v);
      if(i<main.length-1){
        X.push(t[i]+step/4);Y.push(center);
        X.push(t[i]+step/2);Y.push(mid[i]);
        X.push(t[i]+3*step/4);Y.push(center);
      }
    });
    X.push(null);Y.push(null);
  });
  pt.forEach((t,i)=>{X.push(t,t,null);Y.push(center,pv[i],null);});
  return {x:X,y:Y,mode:'lines',line:{width:2,color:'#000'},xaxis:xa,yaxis:ya,hoverinfo:'skip',showlegend:false,connectgaps:false};
}
const data=[
 coreTrace(cZCoreHigh,cZCoreLow,'x','y'),signalTrace(cZCenter,cZHigh,cZHigh2,cZLow,cZLow2,cZPeakT,cZPeakV,'x','y'),
 coreTrace(cYCoreHigh,cYCoreLow,'x2','y2'),signalTrace(cYCenter,cYHigh,cYHigh2,cYLow,cYLow2,cYPeakT,cYPeakV,'x2','y2'),
 coreTrace(cXCoreHigh,cXCoreLow,'x3','y3'),signalTrace(cXCenter,cXHigh,cXHigh2,cXLow,cXLow2,cXPeakT,cXPeakV,'x3','y3'),
 coreTrace(dZCoreHigh,dZCoreLow,'x4','y4'),signalTrace(dZCenter,dZHigh,dZHigh2,dZLow,dZLow2,dZPeakT,dZPeakV,'x4','y4'),
 coreTrace(dYCoreHigh,dYCoreLow,'x5','y5'),signalTrace(dYCenter,dYHigh,dYHigh2,dYLow,dYLow2,dYPeakT,dYPeakV,'x5','y5'),
 coreTrace(dXCoreHigh,dXCoreLow,'x6','y6'),signalTrace(dXCenter,dXHigh,dXHigh2,dXLow,dXLow2,dXPeakT,dXPeakV,'x6','y6'),
 {x:[],y:[],xaxis:'x',yaxis:'y7',showlegend:false},
 {x:[],y:[],xaxis:'x4',yaxis:'y8',showlegend:false}
];
const TICK=3.5, LINE=4;
function xAxis(dom,range,ya,side,show,standoff,size){
  return {domain:[px(dom[0]),px(dom[1])],range,anchor:ya,side,tickmode:'array',tickvals:timeTicks,ticktext:timeTicks.map(String),
    ticks:'inside',ticklen:24,tickwidth:TICK,tickcolor:'#000',showline:true,linewidth:LINE,linecolor:'#000',mirror:'ticks',
    showgrid:false,zeroline:false,showticklabels:show,ticklabelstandoff:standoff,tickfont:{family:FONT,size,color:'#000'},
    minor:{tickmode:'array',tickvals:timeMinor,ticks:'inside',ticklen:12,tickwidth:TICK,tickcolor:'#000',showgrid:false}};
}
function yAxis(dom,range,xa,major,minor,text,standoff,size){
  return {domain:[py(dom[1]),py(dom[0])],range,anchor:xa,side:'left',tickmode:'array',tickvals:major,ticktext:text||major.map(String),
    ticks:'inside',ticklen:25,tickwidth:TICK,tickcolor:'#000',showline:true,linewidth:LINE,linecolor:'#000',mirror:'ticks',
    showgrid:false,zeroline:false,showticklabels:!!text,ticklabelstandoff:standoff,tickfont:{family:FONT,size,color:'#000'},
    minor:{tickmode:'array',tickvals:minor,ticks:'inside',ticklen:13,tickwidth:TICK,tickcolor:'#000',showgrid:false}};
}
function labelAxis(dom,range,pos,size){
  return {domain:[py(dom[1]),py(dom[0])],range,anchor:'free',position:px(pos),side:'left',tickmode:'array',tickvals:zLabels,
    ticktext:zLabels.map(v=>v<0?'\u2212'+(-v):String(v)),ticks:'',showline:false,showgrid:false,zeroline:false,
    ticklabelstandoff:28,tickfont:{family:FONT,size,color:'#000'}};
}
const L=[203,1487], LR=[-.297,4.30], R=[1952.5,3283], RR=[-.295,4.293];
const SL=78, SR=84;
const layout={
 width:W,height:H,margin:{l:0,r:0,t:0,b:0,pad:0},paper_bgcolor:'#fff',plot_bgcolor:'rgba(0,0,0,0)',showlegend:false,
 font:{family:FONT,color:'#000'},
 xaxis:xAxis(L,LR,'y','top',true,15,SL),
 xaxis2:xAxis(L,LR,'y2','bottom',false,0,SL),
 xaxis3:xAxis(L,LR,'y3','bottom',true,-15,SL),
 xaxis4:xAxis(R,RR,'y4','top',true,12,SR),
 xaxis5:xAxis(R,RR,'y5','bottom',false,0,SR),
 xaxis6:xAxis(R,RR,'y6','bottom',true,-24,SR),
 yaxis:yAxis([136,471],[-4.79,3],'x',zMajor,zMinor,null,0,SL),
 yaxis2:yAxis([475,818],[-3.92,4.04],'x2',yMajor,yMinor,yText,28,SL),
 yaxis3:yAxis([822,1162],[-8,8],'x3',xMajor,xMinor,xTextC,28,SL),
 yaxis4:yAxis([123,471],[-4.8,3],'x4',zMajor,zMinor,null,0,SR),
 yaxis5:yAxis([475,834],[-3.93,4.09],'x5',yMajor,yMinor,yText,36,SR),
 yaxis6:yAxis([838,1191],[-8,8],'x6',xMajor,xMinor,xTextD,28,SR),
 yaxis7:labelAxis([60,480],[-4.82,5],203,SL),
 yaxis8:labelAxis([45,480],[-4.75,5],1952.5,SR),
 annotations:[
  ['Z-axis',50,260,73],['Y-axis',59,600,73],['X-axis',50,940,73],
  ['Z-axis',1793,252,77],['Y-axis',1791,605,77],['X-axis',1793,963,77]
 ].map(a=>({text:a[0],x:px(a[1]),y:py(a[2]),xref:'paper',yref:'paper',xanchor:'center',yanchor:'middle',textangle:-90,showarrow:false,font:{family:FONT,size:a[3],color:'#000'}}))
 .concat([
  ['Time(s)',722,1277,74],['Time(s)',2488,1310,76],
  ['(<b>c</b>) 1.0<i>Q<sub>d</sub></i>',748,1437,81],['(<b>d</b>) 1.2<i>Q<sub>d</sub></i>',2536,1437,85]
 ].map(a=>({text:a[0],x:px(a[1]),y:py(a[2]),xref:'paper',yref:'paper',xanchor:'center',yanchor:'middle',showarrow:false,font:{family:FONT,size:a[3],color:'#000'}})))
};
Plotly.newPlot('chart',data,layout,{staticPlot:true,displayModeBar:false});
</script></body></html>
